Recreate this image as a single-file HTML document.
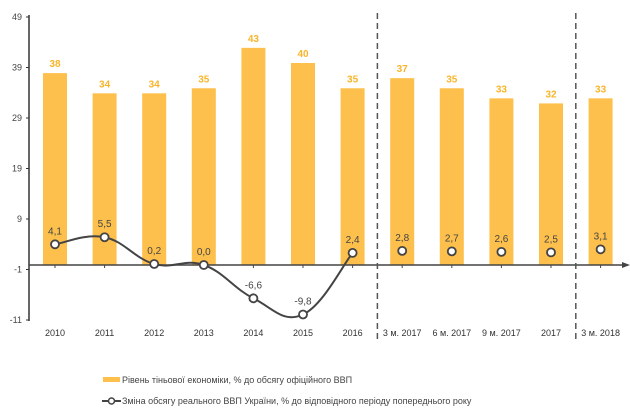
<!DOCTYPE html>
<html><head><meta charset="utf-8"><style>
html,body{margin:0;padding:0;background:#fff;}
svg{display:block;font-family:"Liberation Sans",Arial,sans-serif;}
</style></head><body>
<svg id="chart" width="630" height="416" viewBox="0 0 630 416" xmlns="http://www.w3.org/2000/svg"></svg>
<script>
const categories = ["2010","2011","2012","2013","2014","2015","2016","3 м. 2017","6 м. 2017","9 м. 2017","2017","3 м. 2018"];
const barValues = [38,34,34,35,43,40,35,37,35,33,32,33];
const gdpValues = [4.1,5.5,0.2,0.0,-6.6,-9.8,2.4,2.8,2.7,2.6,2.5,3.1];
const gdpLabels = ["4,1","5,5","0,2","0,0","-6,6","-9,8","2,4","2,8","2,7","2,6","2,5","3,1"];
const tickLabels = [-11,-1,9,19,29,39,49];
const connectedCount = 7;

const NS = "http://www.w3.org/2000/svg";
const svg = document.getElementById("chart");
const y0 = 265, k = 5.05;
function yScale(v){ return y0 - v*k; }
function xScale(i){ return 55 + i*49.6; }
function mk(tag, attrs, parent){
  const e = document.createElementNS(NS, tag);
  for (const a in attrs) e.setAttribute(a, attrs[a]);
  (parent||svg).appendChild(e);
  return e;
}

// y-axis
let yAxis = mk("line",{x1:29,y1:15,x2:29,y2:321,stroke:"#333","stroke-width":1.5});


tickLabels.forEach(t => {
  const y = yScale(t+1) + 4.5;
  const tk = mk("line",{x1:26,y1:y,x2:29,y2:y,stroke:"#333","stroke-width":1});
  
  
  const tx = mk("text",{x:22,y:y+3,"text-anchor":"end","font-size":9,fill:"#444"});
  tx.textContent = t;
  
  
});

// bars
barValues.forEach((v,i) => {
  const x = xScale(i), y = yScale(v);
  const r = mk("rect",{x:x-12,y:y,width:24,height:y0-y,fill:"#FDC04D"});
  
  
  const t = mk("text",{x:x,y:y-6,"text-anchor":"middle","font-size":10,"font-weight":"bold",fill:"#F9B52A"});
  t.textContent = v;
  
  
});

// x-axis
let xAxis = mk("line",{x1:29,y1:y0,x2:624,y2:y0,stroke:"#444","stroke-width":1.5});


let arrow = mk("path",{d:"M630,265 L622,262 L622,268 Z",fill:"#444"});


categories.forEach((c,i) => {
  const x = xScale(i);
  const tk = mk("line",{x1:x,y1:y0,x2:x,y2:y0+3,stroke:"#444","stroke-width":1});
  
  
  const t = mk("text",{x:x,y:336,"text-anchor":"middle","font-size":9,fill:"#333"});
  t.textContent = c;
  
  
});

// dashed separators
[6.5,10.5].forEach(p => {
  const x = xScale(p);
  const d = mk("line",{x1:x,y1:13,x2:x,y2:340,stroke:"#555","stroke-width":1.5,"stroke-dasharray":"6,4"});
  
  
});

// smooth line (first connectedCount points)
const pts = gdpValues.slice(0,connectedCount).map((v,i)=>[xScale(i),yScale(v)]);
let dStr = "M"+pts[0][0]+","+pts[0][1];
for (let i=0;i<pts.length-1;i++){
  const p0=pts[i-1]||pts[i], p1=pts[i], p2=pts[i+1], p3=pts[i+2]||p2;
  const t=0.2;
  const c1=[p1[0]+(p2[0]-p0[0])*t, p1[1]+(p2[1]-p0[1])*t];
  const c2=[p2[0]-(p3[0]-p1[0])*t, p2[1]-(p3[1]-p1[1])*t];
  dStr += " C"+c1[0]+","+c1[1]+" "+c2[0]+","+c2[1]+" "+p2[0]+","+p2[1];
}
let ln = mk("path",{d:dStr,fill:"none",stroke:"#444","stroke-width":2});


gdpValues.forEach((v,i) => {
  const x = xScale(i), y = yScale(v);
  const c = mk("circle",{cx:x,cy:y,r:4,fill:"#fff",stroke:"#444","stroke-width":1.8});
  
  
  const t = mk("text",{x:x,y:y-10,"text-anchor":"middle","font-size":10,fill:"#444"});
  t.textContent = gdpLabels[i];
  
  
});
</script>
<svg style="position:absolute;left:0;top:0" width="630" height="416">
  <g font-family="Liberation Sans, Arial, sans-serif" font-size="9" fill="#444">
    <rect x="103" y="377" width="17" height="5" fill="#FDC04D"/>
    <text x="122" y="383">Рівень тіньової економіки, % до обсягу офіційного ВВП</text>
    <line x1="102" y1="401" x2="121" y2="401" stroke="#444" stroke-width="2"/>
    <circle cx="111.5" cy="401" r="3" fill="#fff" stroke="#444" stroke-width="1.5"/>
    <text x="122" y="404">Зміна обсягу реального ВВП України, % до відповідного періоду попереднього року</text>
  </g>
</svg>
</body></html>
